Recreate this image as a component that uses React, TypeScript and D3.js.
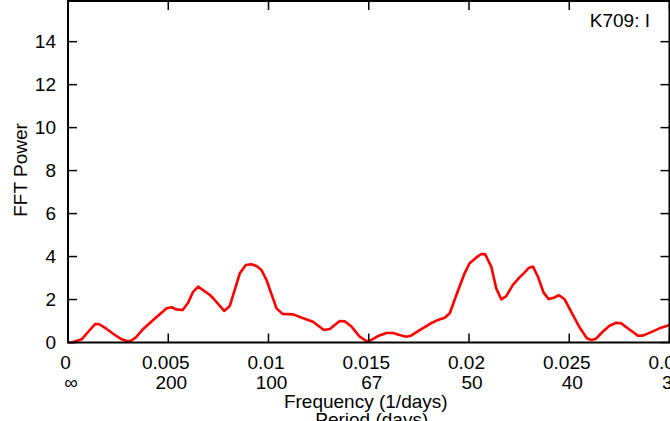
import React from 'react'
import * as d3 from 'd3'

// spectrum, frequency in 1/days
const FREQ = [
  0, 0.00023, 0.00068, 0.00101, 0.00135, 0.00156, 0.00193, 0.00234, 0.00268, 0.00293,
  0.00312, 0.00339, 0.00375, 0.00425, 0.00492, 0.00517, 0.00538, 0.00572, 0.00599, 0.00624,
  0.00649, 0.00708, 0.00724, 0.00779, 0.00807, 0.00857, 0.00887, 0.00915, 0.0094, 0.00965,
  0.0099, 0.0104, 0.0107, 0.01123, 0.01173, 0.01222, 0.01276, 0.01306, 0.01355, 0.0138,
  0.01414, 0.01455, 0.01488, 0.01505, 0.01546, 0.01588, 0.01621, 0.01654, 0.01688, 0.01713,
  0.01754, 0.01804, 0.01845, 0.01879, 0.01904, 0.01937, 0.01978, 0.02003, 0.02037, 0.02061,
  0.02081, 0.02111, 0.02136, 0.02161, 0.02186, 0.02219, 0.02252, 0.02277, 0.02299, 0.02319,
  0.02344, 0.02372, 0.02398, 0.02422, 0.02448, 0.02477, 0.0251, 0.02551, 0.02588, 0.0261,
  0.02631, 0.02667, 0.02701, 0.02734, 0.02759, 0.02792, 0.02842, 0.02867, 0.02917, 0.02958,
  0.03,
]
const POWER = [
  0, 0.01, 0.15, 0.5, 0.86, 0.85, 0.63, 0.35, 0.15, 0.07,
  0.07, 0.24, 0.63, 1.05, 1.59, 1.64, 1.54, 1.51, 1.85, 2.36,
  2.6, 2.21, 2.06, 1.47, 1.7, 3.22, 3.61, 3.64, 3.56, 3.37,
  2.91, 1.59, 1.33, 1.31, 1.13, 0.97, 0.58, 0.63, 1.0, 0.99,
  0.74, 0.27, 0.07, 0.08, 0.3, 0.44, 0.44, 0.35, 0.27, 0.33,
  0.58, 0.86, 1.05, 1.15, 1.36, 2.21, 3.22, 3.69, 3.96, 4.12,
  4.1, 3.53, 2.52, 2.01, 2.16, 2.68, 3.03, 3.25, 3.48, 3.53,
  3.06, 2.32, 2.02, 2.08, 2.2, 2.01, 1.43, 0.71, 0.2, 0.12,
  0.16, 0.5, 0.78, 0.92, 0.89, 0.66, 0.32, 0.32, 0.52, 0.69,
  0.81,
]

const X_TICKS = [0, 0.005, 0.01, 0.015, 0.02, 0.025, 0.03]
const X_LABELS = ['0', '0.005', '0.01', '0.015', '0.02', '0.025', '0.03']
const PERIOD_LABELS = ['∞', '200', '100', '67', '50', '40', '33']
const Y_TICKS = [0, 2, 4, 6, 8, 10, 12, 14]

const W = 670
const H = 421
const FONT = '"Liberation Sans", Arial, Helvetica, sans-serif'
const FS = 19

export default function App() {
  const x = d3.scaleLinear().domain([0, 0.03]).range([68, 669.5])
  const y = d3.scaleLinear().domain([0, 16]).range([342.5, -1.3])

  const points = FREQ.map((f, i) => ({ f, p: POWER[i] }))
  const line = d3.line<{ f: number; p: number }>()
    .x(d => x(d.f))
    .y(d => y(d.p))

  const left = x(0)
  const right = x(0.03)
  const bottom = y(0)
  const top = 1
  const tick = 9
  const midX = (left + right) / 2

  return (
    <>
      <style>{'body{margin:0;overflow:hidden}'}</style>
      <svg width={W} height={H} style={{ display: 'block', background: '#fff' }} fontFamily={FONT}>
        {/* data curve */}
        <path d={line(points) || ''} fill="none" stroke="#ff0000" strokeWidth={2.6} strokeLinejoin="round" />

        {/* frame */}
        <rect x={left} y={top} width={right - left} height={bottom - top} fill="none" stroke="#000" strokeWidth={2} />

        {/* y ticks, inward on both sides */}
        {Y_TICKS.map(v => (
          <g key={'y' + v}>
            <line x1={left} x2={left + tick} y1={y(v)} y2={y(v)} stroke="#000" strokeWidth={1.5} />
            <line x1={right} x2={right - tick} y1={y(v)} y2={y(v)} stroke="#000" strokeWidth={1.5} />
            <text x={56} y={y(v)} dy="0.35em" textAnchor="end" fontSize={FS}>{v}</text>
          </g>
        ))}

        {/* x ticks top and bottom, two rows of labels */}
        {X_TICKS.map((v, i) => (
          <g key={'x' + v}>
            <line x1={x(v)} x2={x(v)} y1={bottom} y2={bottom - tick} stroke="#000" strokeWidth={1.5} />
            <line x1={x(v)} x2={x(v)} y1={top} y2={top + tick} stroke="#000" strokeWidth={1.5} />
            <text x={x(v) - 2.5} y={369} textAnchor="middle" fontSize={FS}>{X_LABELS[i]}</text>
            <text x={x(v) + 3} y={389} textAnchor="middle" fontSize={FS}>{PERIOD_LABELS[i]}</text>
          </g>
        ))}

        <text x={midX - 3} y={408} textAnchor="middle" fontSize={FS}>Frequency (1/days)</text>
        <text x={midX + 3} y={426} textAnchor="middle" fontSize={FS}>Period (days)</text>

        <text transform={`translate(27,170) rotate(-90)`} textAnchor="middle" fontSize={FS}>FFT Power</text>

        <text x={650} y={27} textAnchor="end" fontSize={FS}>K709: I</text>
      </svg>
    </>
  )
}
